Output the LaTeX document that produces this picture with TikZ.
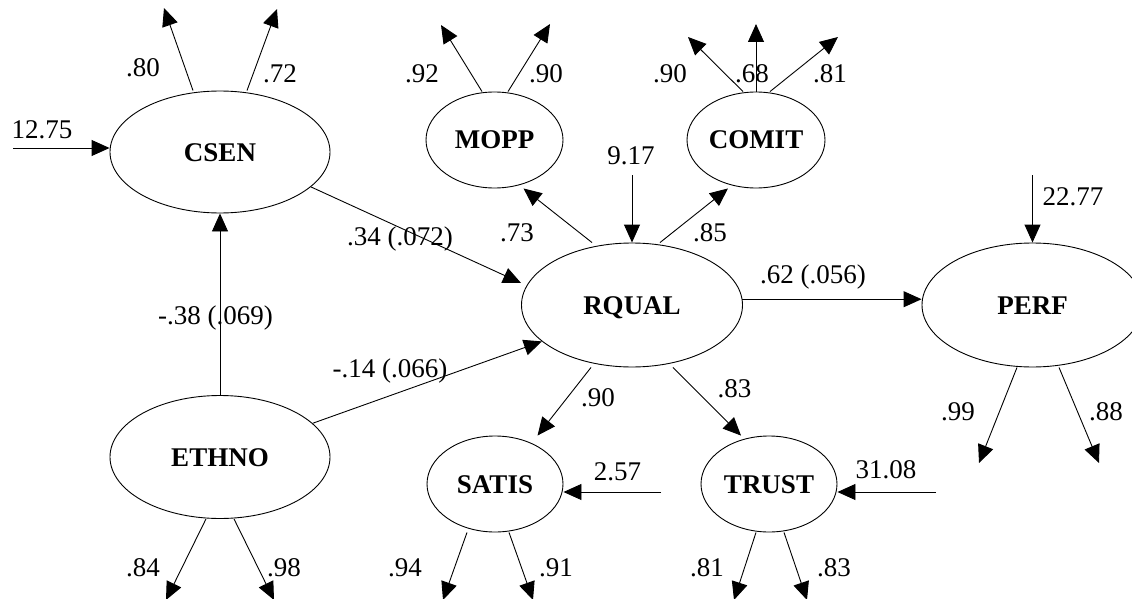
\documentclass[tikz,border=0pt]{standalone}
\usepackage{fontspec}
\setmainfont{Liberation Serif}
\usetikzlibrary{shapes.geometric,arrows.meta}
\tikzset{
  lat/.style={ellipse, draw, line width=0.9pt, inner sep=0pt, text height=18pt, text depth=0pt,
    font=\fontsize{27}{27}\selectfont\bfseries},
  num/.style={inner sep=0pt, text height=18.2pt, text depth=0pt, font=\fontsize{27}{27}\selectfont},
  arr/.style={line width=0.9pt, -{Triangle[length=18pt,width=16pt]}},
  ln/.style={line width=0.9pt}
}
\begin{document}
\begin{tikzpicture}[x=1pt,y=-1pt]
\useasboundingbox (0,0) rectangle (1132,599);
% latent variables
\node[lat, minimum width=220pt, minimum height=122pt] (csen) at (220,152) {CSEN};
\node[lat, minimum width=220pt, minimum height=123pt] (ethno) at (220,457) {ETHNO};
\node[lat, minimum width=137pt, minimum height=96pt] (mopp) at (494.5,140) {MOPP};
\node[lat, minimum width=138pt, minimum height=96pt] (comit) at (756,140) {COMIT};
\node[lat, minimum width=221pt, minimum height=124pt] (rqual) at (632,305) {RQUAL};
\node[lat, minimum width=221pt, minimum height=124pt] (perf) at (1032.5,305) {PERF};
\node[lat, minimum width=136pt, minimum height=96pt] (satis) at (495,484) {SATIS};
\node[lat, minimum width=136pt, minimum height=96pt] (trust) at (769,484) {TRUST};
% free ends
\coordinate (c80) at (164,8);
\coordinate (c72) at (277,9);
\coordinate (c1275) at (13,148);
\coordinate (m92) at (441,25);
\coordinate (m90) at (550,24);
\coordinate (k90) at (688,37);
\coordinate (k68) at (756,24);
\coordinate (k81) at (838,37);
\coordinate (c917) at (632,175);
\coordinate (p2277) at (1032.5,175);
\coordinate (p99) at (979,463);
\coordinate (p88) at (1099,463);
\coordinate (s257) at (661,492);
\coordinate (t3108) at (936,492);
\coordinate (e84) at (166,600);
\coordinate (e98) at (274,600);
\coordinate (s94) at (443,600);
\coordinate (s91) at (533,600);
\coordinate (t81) at (734,600);
\coordinate (t83) at (807,600);
% connectors
\draw[arr] ([xshift=-27pt]csen.north) -- (c80);
\draw[arr] ([xshift=27pt]csen.north) -- (c72);
\draw[arr] (c1275) -- (c1275 -| csen.west);
\draw[arr] ([xshift=-12.5pt]mopp.north) -- (m92);
\draw[arr] ([xshift=13.5pt]mopp.north) -- (m90);
\draw[arr] ([xshift=-13pt]comit.north) -- (k90);
\draw[arr] (comit.north) -- (k68);
\draw[arr] ([xshift=14pt]comit.north) -- (k81);
\draw[arr] (c917) -- (rqual.north);
\draw[arr] ([xshift=-40pt]rqual.north) -- ([xshift=29pt]mopp.south);
\draw[arr] ([xshift=28pt]rqual.north) -- ([xshift=-28pt]comit.south);
\draw[arr] (csen.-21) -- ([yshift=22pt]rqual.west);
\draw[arr] (ethno.20) -- (rqual.202);
\draw[arr] (ethno.north) -- (csen.south);
\draw[arr] (rqual.3) -- (rqual.3 -| perf.west);
\draw[arr] (p2277) -- (perf.north);
\draw[arr] ([xshift=-15.5pt]perf.south) -- (p99);
\draw[arr] ([xshift=26.5pt]perf.south) -- (p88);
\draw[arr] ([xshift=-41pt]rqual.south) -- ([xshift=42.5pt]satis.north);
\draw[arr] ([xshift=41pt]rqual.south) -- ([xshift=-28pt]trust.north);
\draw[arr] (s257) -- (s257 -| satis.east);
\draw[arr] (t3108) -- (t3108 -| trust.east);
\draw[arr] ([xshift=-14pt]ethno.south) -- (e84);
\draw[arr] ([xshift=14pt]ethno.south) -- (e98);
\draw[arr] ([xshift=-28pt]satis.south) -- (s94);
\draw[arr] ([xshift=14pt]satis.south) -- (s91);
\draw[arr] ([xshift=-13pt]trust.south) -- (t81);
\draw[arr] ([xshift=15pt]trust.south) -- (t83);
% labels
\node[num] (l1) at (143,67) {.80};
\node[num] (l2) at (280,73) {.72};
\node[num] (l3) at (42,129) {12.75};
\node[num] (l4) at (422,73) {.92};
\node[num] (l5) at (546,73) {.90};
\node[num] (l6) at (670,73) {.90};
\node[num] (l7) at (752,73) {.68};
\node[num] (l8) at (830,73) {.81};
\node[num] (l9) at (631,155) {9.17};
\node[num] (l10) at (517,232) {.73};
\node[num] (l11) at (710,232) {.85};
\node[num] (l12) at (400,236.5) {.34 (.072)};
\node[num] (l13) at (1073,196) {22.77};
\node[num] (l14) at (813,274.5) {.62 (.056)};
\node[num] (l15) at (215.5,315) {-.38 (.069)};
\node[num] (l16) at (390,368) {-.14 (.066)};
\node[num] (l17) at (958,411) {.99};
\node[num] (l18) at (1106,411) {.88};
\node[num] (l19) at (598,397) {.90};
\node[num] (l20) at (734.5,388) {.83};
\node[num] (l21) at (617.5,471) {2.57};
\node[num] (l22) at (886,469) {31.08};
\node[num] (l23) at (405,567) {.94};
\node[num] (l24) at (556,567) {.91};
\node[num] (l25) at (707,567) {.81};
\node[num] (l26) at (834,567) {.83};
\node[num] (l27) at (143,567) {.84};
\node[num] (l28) at (284,567) {.98};
\end{tikzpicture}
\end{document}
